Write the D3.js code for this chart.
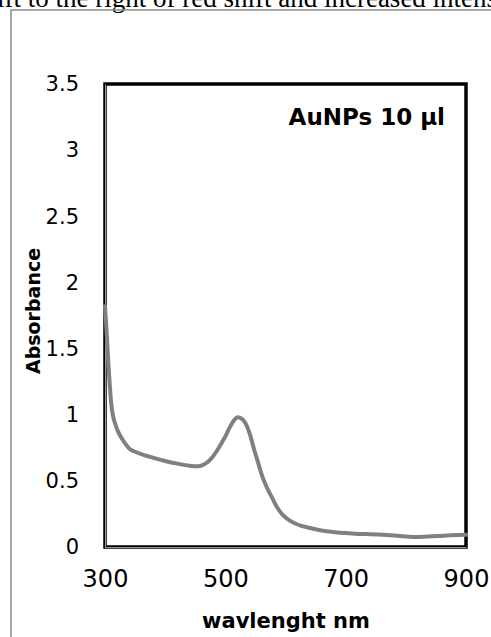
<!DOCTYPE html>
<html>
<head>
<meta charset="utf-8">
<script src="https://cdn.jsdelivr.net/npm/d3@7"></script>
<style>
  body { margin: 0; background: #fff; overflow: hidden; }
  .tick text { font-family: "DejaVu Sans", sans-serif; fill: #000; }
</style>
</head>
<body>
<div id="chart"></div>
<script>
// ------- data -------
const wavelength = [300, 302, 304, 306, 308, 310, 313, 317, 322, 328, 334, 340, 350, 365, 380, 400, 420, 440, 455, 465, 475, 485, 493, 498, 500, 503, 508, 514, 521, 527, 533, 541, 547, 553, 561, 569, 578, 586, 595, 607, 620, 641, 660, 679, 700, 724, 740, 769, 790, 812, 830, 852, 875, 900];
const absorbance = [1.82, 1.68, 1.52, 1.36, 1.22, 1.10, 1.0, 0.93, 0.87, 0.82, 0.78, 0.745, 0.72, 0.695, 0.675, 0.65, 0.63, 0.615, 0.61, 0.625, 0.66, 0.72, 0.78, 0.82, 0.835, 0.865, 0.91, 0.955, 0.98, 0.97, 0.94, 0.85, 0.75, 0.66, 0.54, 0.45, 0.37, 0.30, 0.245, 0.20, 0.17, 0.144, 0.125, 0.113, 0.105, 0.098, 0.097, 0.091, 0.083, 0.076, 0.078, 0.083, 0.088, 0.092];
const xTicks = [300, 500, 700, 900];
const yTicks = [0, 0.5, 1, 1.5, 2, 2.5, 3, 3.5];

const width = 491, height = 637;
const plot = {left: 105, top: 84, right: 466, bottom: 547};
const boldFont = "'DejaVu Sans', sans-serif";

let svg = d3.select("#chart").append("svg")
    .attr("width", width)
    .attr("height", height)

// bit of the surrounding page text, cut off at the top like in the source
svg.append("text")
   .attr("x", -3)
   .attr("y", 7)
   .style("font-family", "'Liberation Serif', 'Times New Roman', serif")
   .style("font-size", "27px")
   .text("ift to the right of red shift and increased intensity")

// outer chart frame (runs past the window)
svg.append("rect")
   .attr("x", 11).attr("y", 10)
   .attr("width", 600).attr("height", 700)
   .attr("fill", "none")
   .attr("stroke", "#8c8c8c")
   .attr("stroke-width", 1.5)

let xScale = d3.scaleLinear().domain([300, 900]).range([plot.left, plot.right])
let yScale = d3.scaleLinear().domain([0, 3.5]).range([plot.bottom, plot.top])

// plot area border
svg.append("rect")
   .attr("x", plot.left).attr("y", plot.top)
   .attr("width", plot.right - plot.left)
   .attr("height", plot.bottom - plot.top)
   .attr("fill", "none")
   .attr("stroke", "#000")
   .attr("stroke-width", 3.5)

let yAxis = svg.append("g")
   .attr("transform", `translate(${plot.left},0)`)
   .call(d3.axisLeft(yScale).tickValues(yTicks).tickSize(0).tickPadding(26).tickFormat(d3.format("")))
yAxis.select(".domain").attr("stroke", "#9a9a9a").attr("stroke-width", 1)
yAxis.selectAll("text").style("font-size", "21px")

let xAxis = svg.append("g")
   .attr("transform", `translate(0,${plot.bottom})`)
   .call(d3.axisBottom(xScale).tickValues(xTicks).tickSize(0).tickPadding(23).tickFormat(d3.format("d")))
xAxis.select(".domain").attr("stroke", "#9a9a9a").attr("stroke-width", 1)
xAxis.selectAll("text").style("font-size", "24px")

// spectrum
let line = d3.line()
   .x((d, i) => xScale(wavelength[i]))
   .y(d => yScale(d))
   .curve(d3.curveMonotoneX)

svg.append("path")
   .datum(absorbance)
   .attr("d", line)
   .attr("fill", "none")
   .attr("stroke", "#808080")
   .attr("stroke-width", 4)
   .attr("stroke-linejoin", "round")
   .attr("stroke-linecap", "round")

// labels
svg.append("text")
   .attr("x", 445).attr("y", 125)
   .attr("text-anchor", "end")
   .style("font-family", boldFont)
   .style("font-weight", "bold")
   .style("font-size", "23px")
   .text("AuNPs 10 \u03bcl")

svg.append("text")
   .attr("x", 286).attr("y", 628)
   .attr("text-anchor", "middle")
   .style("font-family", boldFont)
   .style("font-weight", "bold")
   .style("font-size", "21px")
   .text("wavlenght nm")

svg.append("text")
   .attr("transform", "translate(40,311) rotate(-90)")
   .attr("text-anchor", "middle")
   .style("font-family", boldFont)
   .style("font-weight", "bold")
   .style("font-size", "19px")
   .text("Absorbance")
</script>
</body>
</html>
